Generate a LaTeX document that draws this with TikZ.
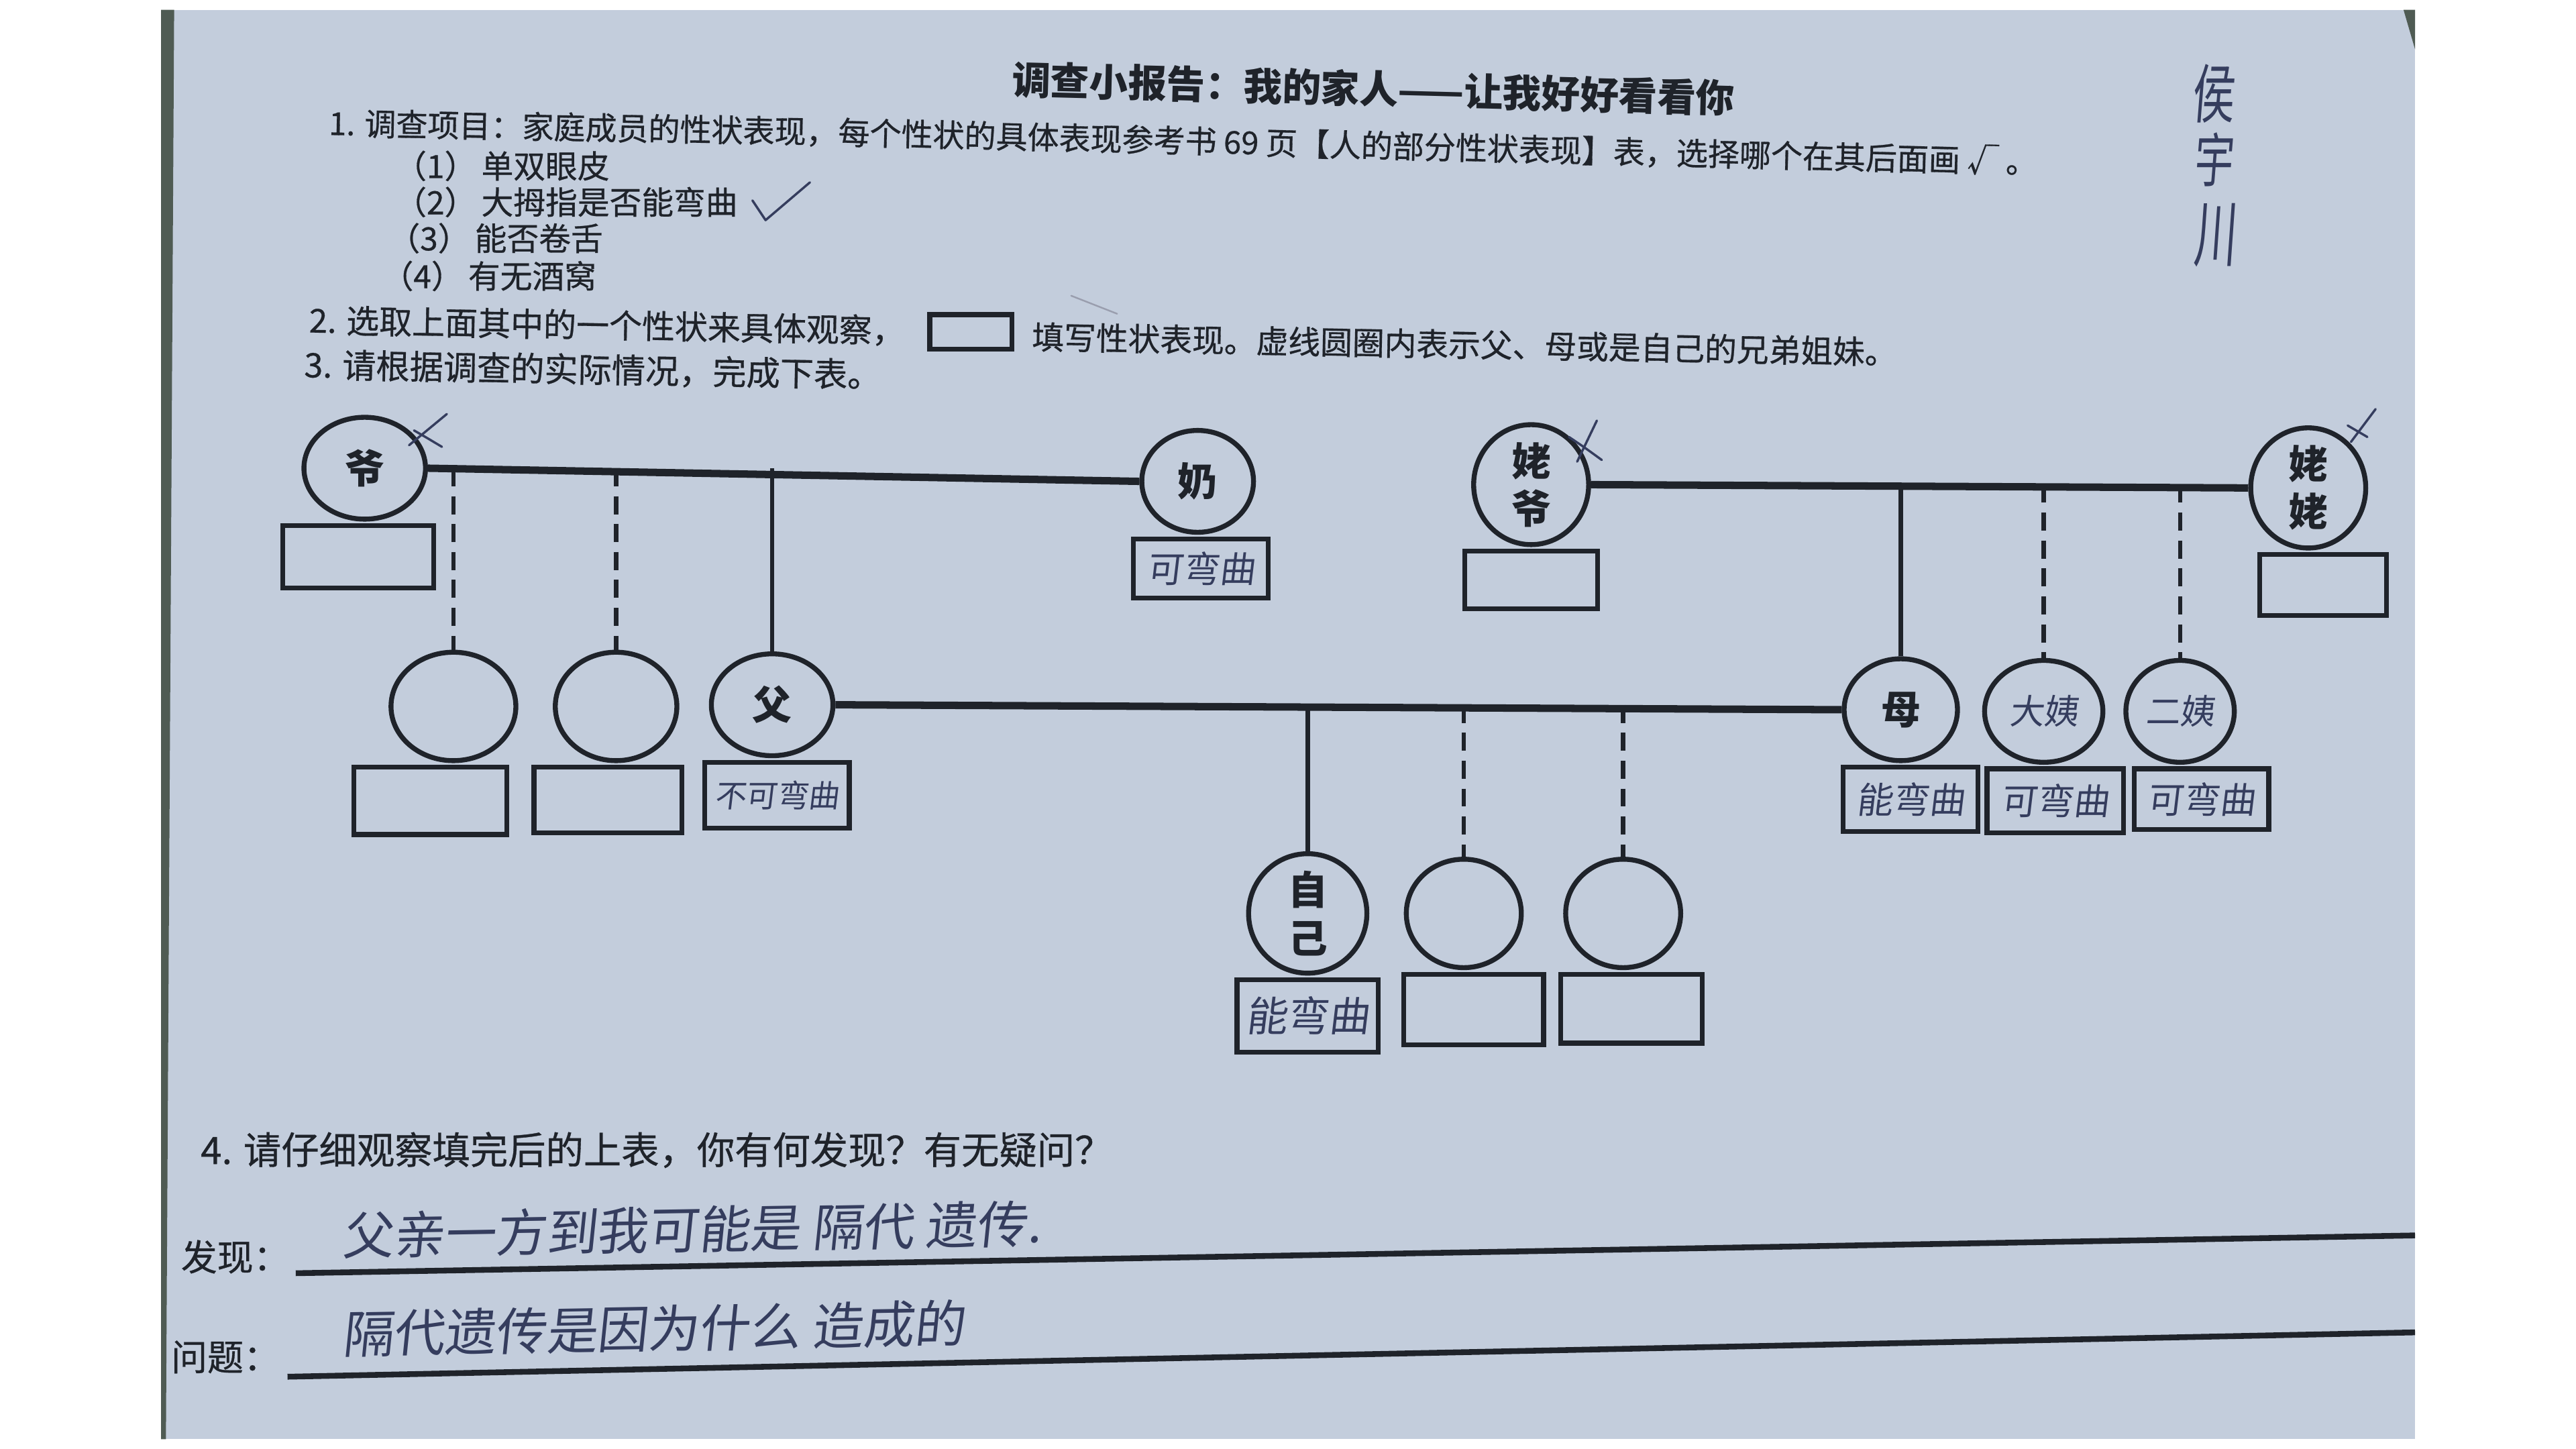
\documentclass[tikz,border=0pt]{standalone}
\usepackage{fontspec}
\usepackage{tikz}
\usetikzlibrary{positioning,shapes.geometric}
\setmainfont{Noto Sans CJK SC}
\newfontfamily\prt[FakeBold=0.6]{Noto Sans CJK SC}
\newfontfamily\hand[FakeSlant=0.12]{Noto Sans CJK SC}
\definecolor{ink}{HTML}{1F232A}
\definecolor{pen}{HTML}{353D5E}
\definecolor{paper}{HTML}{C3CDDC}
\definecolor{desk}{HTML}{4F5B53}

\begin{document}
\begin{tikzpicture}[x=1pt,y=-1pt,
person/.style={ellipse,draw=ink,line width=3pt,minimum width=74pt,minimum height=62pt,inner sep=0pt,text=ink,align=center,font=\bfseries\fontsize{24}{29}\selectfont},
trait/.style={draw=ink,line width=3pt,minimum width=86pt,minimum height=40pt,inner sep=0pt,text=pen,font=\hand\fontsize{22}{22}\selectfont},
txt/.style={anchor=west,inner sep=0pt,text=ink,font=\prt\fontsize{19.5}{19.5}\selectfont},
wed/.style={ink,line width=4.5pt},kid/.style={ink,line width=2.6pt},kidd/.style={kid,dash pattern=on 11pt off 6pt},
penline/.style={pen,line width=1.4pt,line cap=round,line join=round}]
\fill[white] (0,0) rectangle (1568,882);
\useasboundingbox (0,0) rectangle (1568,882);
\fill[paper] (98,6) rectangle (1470,876);
\fill[desk] (98,6) -- (106,6) -- (101,876) -- (98,876) -- cycle;
\fill[desk] (1463,6) -- (1470,6) -- (1470,30) -- cycle;
% header
\node[txt,anchor=center,rotate=-1.5,font=\bfseries\fontsize{23.5}{23.5}\selectfont] (title) at (836,54) {调查小报告：我的家人——让我好好看看你};
\node[txt,rotate=-1,font=\prt\fontsize{19.2}{19.2}\selectfont] (q1a) at (200,75) {1. 调查项目：家庭成员的性状表现，};
\node[txt,rotate=-1.4,font=\prt\fontsize{19.2}{19.2}\selectfont] (q1b) at (q1a.east) {每个性状的具体表现参考书 69 页};
\node[txt,rotate=-1.4,font=\prt\fontsize{19.2}{19.2}\selectfont] (q1c) at (q1b.east) {【人的部分性状表现】表，选择哪个在其后面画 √ 。};
\node[txt] (i1) at (240,101) {（1）\hspace{3pt}单双眼皮};
\node[txt] (i2) at (240,123) {（2）\hspace{3pt}大拇指是否能弯曲};
\node[txt] (i3) at (236,145) {（3）\hspace{3pt}能否卷舌};
\node[txt] (i4) at (232,168) {（4）\hspace{3pt}有无酒窝};
\node[txt,rotate=-1,font=\prt\fontsize{20}{20}\selectfont] (q2) at (188,195) {2. 选取上面其中的一个性状来具体观察，};
\node[draw=ink,line width=3pt,minimum width=50pt,minimum height=21pt,inner sep=0pt] (key) at (591,202) {};
\node[txt,rotate=-1] (q2b) at (628,205) {填写性状表现。虚线圆圈内表示父、母或是自己的兄弟姐妹。};
\node[txt,rotate=-1,font=\prt\fontsize{20.5}{20.5}\selectfont] (q3) at (185,222) {3. 请根据调查的实际情况，完成下表。};
\draw[penline] (458,122) -- (466,134) -- (493,111);
\draw[penline,pen!50,line width=1pt] (652,180) -- (680,191);
% name
\node[inner sep=0pt,text=pen,font=\hand\fontsize{26}{26}\selectfont,yscale=1.5] (s1) at (1347,57) {侯};
\node[inner sep=0pt,text=pen,font=\hand\fontsize{24}{24}\selectfont,yscale=1.5] (s2) at (1347,97) {宇};
\node[inner sep=0pt,text=pen,font=\hand\fontsize{26}{26}\selectfont,yscale=1.7] (s3) at (1348,143) {川};
% family tree
\node[person] (gp) at (222,285) {爷};
\node[person,minimum width=68pt] (gm) at (729,293) {奶};
\node[person,minimum width=70pt] (mgp) at (932,295) {姥\\爷};
\node[person,minimum width=70pt] (mgm) at (1405,297) {姥\\姥};
\node[person,minimum width=76pt,minimum height=66pt] (unc1) at (276,430) {};
\node[person,minimum width=74pt,minimum height=66pt] (unc2) at (375,430) {};
\node[person] (dad) at (470,429) {父};
\node[person,minimum width=69pt] (mom) at (1157,432) {母};
\node[person,minimum width=72pt,text=pen,font=\hand\fontsize{21}{21}\selectfont] (aunt1) at (1244,433) {大姨};
\node[person,minimum width=66pt,text=pen,font=\hand\fontsize{21}{21}\selectfont] (aunt2) at (1327,433) {二姨};
\node[person,minimum width=72pt,minimum height=67pt] (me) at (796,556) {自\\己};
\node[person,minimum width=70pt,minimum height=66pt] (sib1) at (891,556) {};
\node[person,minimum width=70pt,minimum height=66pt] (sib2) at (988,556) {};
\node[trait,minimum width=92pt,minimum height=38pt,below=1pt of gp,xshift=-4pt] (gpb) {};
\node[trait,minimum width=82pt,minimum height=36pt,below=1pt of gm,xshift=2pt] (gmb) {可弯曲};
\node[trait,minimum width=81pt,minimum height=35pt,below=1pt of mgp] (mgpb) {};
\node[trait,minimum width=77pt,minimum height=37pt,below=1pt of mgm,xshift=9pt] (mgmb) {};
\node[trait,minimum width=93pt,minimum height=41pt,below=1pt of unc1,xshift=-14pt] (unc1b) {};
\node[trait,minimum width=90pt,below=1pt of unc2,xshift=-5pt] (unc2b) {};
\node[trait,minimum width=88pt,below=1pt of dad,xshift=3pt,font=\hand\fontsize{19}{19}\selectfont] (dadb) {不可弯曲};
\node[trait,minimum width=82pt,minimum height=39pt,below=1pt of mom,xshift=6pt] (momb) {能弯曲};
\node[trait,minimum width=83pt,minimum height=39pt,below=1pt of aunt1,xshift=7pt] (aunt1b) {可弯曲};
\node[trait,minimum width=82pt,minimum height=37pt,below=1pt of aunt2,xshift=13pt] (aunt2b) {可弯曲};
\node[trait,minimum width=86pt,minimum height=44pt,below=1pt of me,font=\hand\fontsize{25}{25}\selectfont] (meb) {能弯曲};
\node[trait,minimum width=85pt,minimum height=43pt,below=1pt of sib1,xshift=6pt] (sib1b) {};
\node[trait,minimum width=86pt,minimum height=42pt,below=1pt of sib2,xshift=5pt] (sib2b) {};
\draw[wed] (gp.east) -- (gm.west);
\draw[kidd] (unc1.north |- gp.east) -- (unc1.north);
\draw[kidd] (unc2.north |- gp.east) -- (unc2.north);
\draw[kid] (dad.north |- gp.east) -- (dad.north);
\draw[wed] (dad.east) -- (mom.west);
\draw[kid] (me.north |- dad.east) -- (me.north);
\draw[kidd] (sib1.north |- dad.east) -- (sib1.north);
\draw[kidd] (sib2.north |- dad.east) -- (sib2.north);
\draw[wed] (mgp.east) -- (mgm.west);
\draw[kid] (mom.north |- mgp.east) -- (mom.north);
\draw[kidd] (aunt1.north |- mgp.east) -- (aunt1.north);
\draw[kidd] (aunt2.north |- mgp.east) -- (aunt2.north);
% crosses
\draw[penline] (249,271) -- (272,252); \draw[penline] (252,262) .. controls (259,266) .. (269,272);
\draw[penline] (960,281) -- (972,256); \draw[penline] (955,266) .. controls (964,272) .. (975,280);
\draw[penline] (1431,269) -- (1446,249); \draw[penline] (1429,259) -- (1441,266);
% questions
\node[txt,font=\prt\fontsize{23}{23}\selectfont] (q4) at (122,700) {4. 请仔细观察填完后的上表，你有何发现？有无疑问？};
\node[txt,font=\prt\fontsize{22}{22}\selectfont] (fx) at (110,765) {发现：};
\node[txt,font=\prt\fontsize{22}{22}\selectfont] (wt) at (104,826) {问题：};
\draw[ink,line width=3.5pt] (180,775) -- (1470,752);
\draw[ink,line width=3.5pt] (175,838) -- (1470,811);
\node[txt,text=pen,rotate=1,font=\hand\fontsize{31}{31}\selectfont] (fxa) at (208,752) {父亲一方到我可能是 隔代 遗传.};
\node[txt,text=pen,rotate=1,font=\hand\fontsize{31}{31}\selectfont] (wta) at (208,812) {隔代遗传是因为什么 造成的};
\end{tikzpicture}
\end{document}
